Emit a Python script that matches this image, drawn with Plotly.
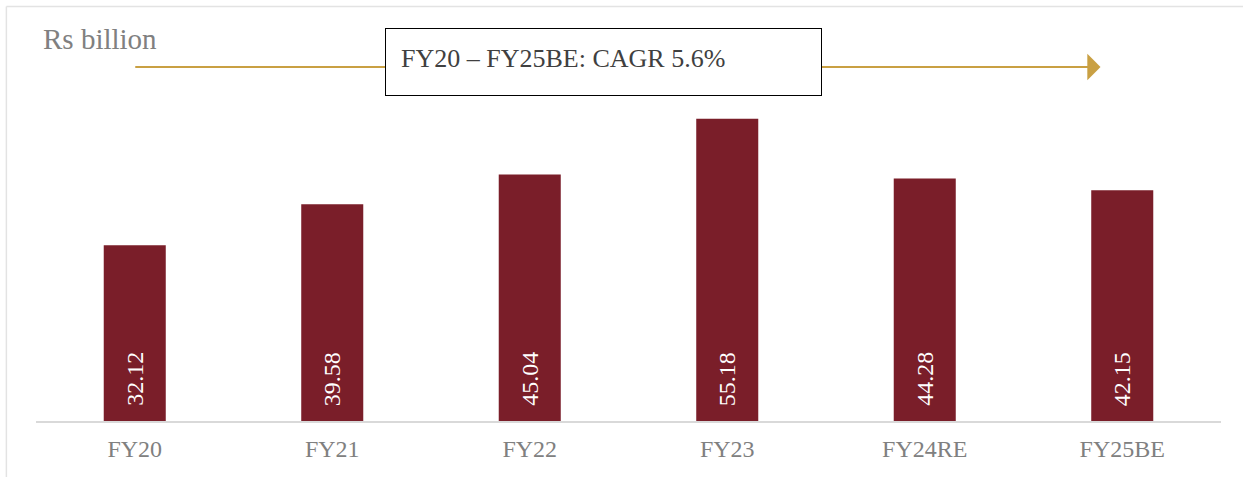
import plotly.graph_objects as go

years = ['FY20', 'FY21', 'FY22', 'FY23', 'FY24RE', 'FY25BE']
values = [32.12, 39.58, 45.04, 55.18, 44.28, 42.15]
unit_label = 'Rs billion'
cagr_label = 'FY20 – FY25BE: CAGR 5.6%'

bar_color = '#7A1E29'
arrow_color = '#C9A043'
serif = 'Liberation Serif'

fig = go.Figure()
fig.add_trace(go.Bar(x=years, y=values, marker=dict(color=bar_color, line=dict(width=0)),
                     hoverinfo='skip'))

# value labels written upward from the base of each bar
for yr, v in zip(years, values):
    fig.add_annotation(x=yr, y=0, xref='x', yref='y', text='{:.2f}'.format(v),
                       textangle=-90, showarrow=False, yanchor='bottom', yshift=13,
                       font=dict(family=serif, size=24, color='white'))

# CAGR arrow across the chart, box on top of it
fig.add_annotation(x=4.89, y=0.857, xref='x', yref='paper',
                   ax=-0.005, ay=0, axref='x', ayref='pixel',
                   showarrow=True, arrowhead=1, arrowsize=2.2, arrowwidth=2,
                   arrowcolor=arrow_color, text='')
fig.add_annotation(x=0.2944, y=0.869, xref='paper', yref='paper', text=cagr_label,
                   showarrow=False, xanchor='left', yanchor='middle', align='left',
                   width=405, height=36, borderpad=15, valign='top',
                   bgcolor='white', bordercolor='black', borderwidth=1,
                   font=dict(family=serif, size=26, color='#404040'))

fig.add_annotation(x=0.004, y=0.925, xref='paper', yref='paper', text=unit_label,
                   showarrow=False, xanchor='left', yanchor='middle',
                   font=dict(family=serif, size=29, color='#808080'))

# light frame on top and left
fig.add_shape(type='line', xref='paper', yref='paper', x0=-0.025, x1=1.02, y0=1.0036, y1=1.0036,
              line=dict(color='#E3E3E3', width=1.5))
fig.add_shape(type='line', xref='paper', yref='paper', x0=-0.025, x1=-0.025, y0=1.0036, y1=-0.14,
              line=dict(color='#E3E3E3', width=1.5))

fig.update_xaxes(showgrid=False, showline=True, linecolor='#D9D9D9', linewidth=2,
                 ticks='outside', ticklen=5, tickcolor='rgba(0,0,0,0)',
                 tickfont=dict(family=serif, size=24, color='#808080'))
fig.update_yaxes(range=[0, 75.43], visible=False, showgrid=False, zeroline=False)
fig.update_layout(width=1243, height=477, bargap=0.686, showlegend=False,
                  plot_bgcolor='white', paper_bgcolor='white',
                  margin=dict(l=36, r=22, t=8, b=56))

fig.write_html('out.html', config={'displayModeBar': False},
               post_script="document.body.style.margin='0';")
